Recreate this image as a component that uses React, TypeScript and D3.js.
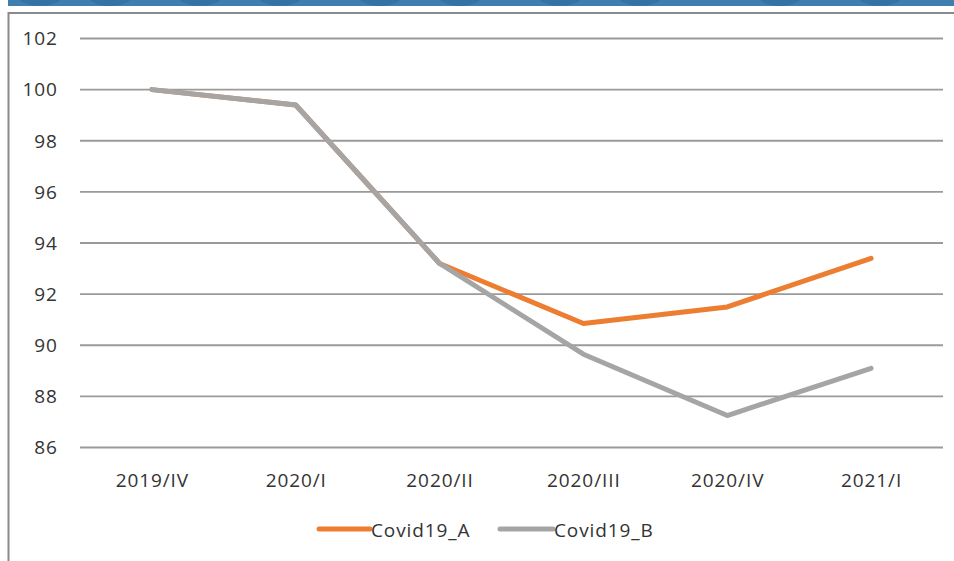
import React from "react";
import * as d3 from "d3";

const categories = ["2019/IV", "2020/I", "2020/II", "2020/III", "2020/IV", "2021/I"];
const covidA = [100, 99.4, 93.2, 90.85, 91.5, 93.4];
const covidB = [100, 99.4, 93.2, 89.65, 87.25, 89.1];
const yTicks = [86, 88, 90, 92, 94, 96, 98, 100, 102];
const seriesNames = ["Covid19_A", "Covid19_B"];

const W = 954;
const H = 561;
const FONT = "'Open Sans', 'Liberation Sans', sans-serif";
const TEXT = "#333333";
const LS = 0.9;
const FS = 19;

export default function App() {
  const x = d3.scaleBand<string>().domain(categories).range([80, 943]);
  const y = d3.scaleLinear().domain([86, 102]).range([447.5, 38.5]);
  const cx = (c: string) => (x(c) as number) + x.bandwidth() / 2;
  const line = d3
    .line<number>()
    .x((_, i) => cx(categories[i]))
    .y((d) => y(d));

  const series = [
    { name: seriesNames[0], values: covidA, color: "#ed7d31" },
    { name: seriesNames[1], values: covidB, color: "#a5a5a5" },
  ];

  const legendItems = [
    { x0: 319, x1: 370, tx: 371, ...series[0] },
    { x0: 500, x1: 553, tx: 554, ...series[1] },
  ];

  return (
    <svg
      width={W}
      height={H}
      style={{ position: "absolute", left: 0, top: 0, display: "block", background: "#fff" }}
    >
      {/* top banner */}
      <rect x={8} y={0} width={W - 8} height={6} fill="#3f7fb0" />
      {[40, 110, 200, 280, 380, 460, 560, 640, 780, 880].map((bx, i) => (
        <ellipse key={i} cx={bx} cy={-4} rx={22} ry={10} fill="#2f6b9e" opacity={0.6} />
      ))}
      <rect x={8} y={6} width={W - 8} height={6} fill="#fff" />
      {/* frame */}
      <line x1={8} x2={W} y1={13} y2={13} stroke="#8a8a8a" strokeWidth={2} />
      <line x1={8.5} x2={8.5} y1={12} y2={H} stroke="#8a8a8a" strokeWidth={2} />

      {/* grid */}
      {yTicks.map((t) => (
        <g key={t}>
          <line x1={80} x2={943} y1={y(t)} y2={y(t)} stroke="#9a9a9a" strokeWidth={1.8} />
          <text
            x={57 + LS}
            y={y(t)}
            dy="0.36em"
            textAnchor="end"
            fontFamily={FONT}
            fontSize={FS}
            letterSpacing={LS}
            fill={TEXT}
          >
            {t}
          </text>
        </g>
      ))}

      {/* x labels */}
      {categories.map((c) => (
        <text
          key={c}
          x={cx(c) + LS / 2}
          y={480}
          dy="0.36em"
          textAnchor="middle"
          fontFamily={FONT}
          fontSize={FS}
          letterSpacing={LS}
          fill={TEXT}
        >
          {c}
        </text>
      ))}

      {/* lines */}
      {series.map((s) => (
        <path
          key={s.name}
          d={line(s.values) || ""}
          fill="none"
          stroke={s.color}
          strokeWidth={5}
          strokeLinejoin="round"
          strokeLinecap="round"
        />
      ))}

      {/* legend */}
      {legendItems.map((l) => (
        <g key={l.name}>
          <line x1={l.x0} x2={l.x1} y1={529} y2={529} stroke={l.color} strokeWidth={5} strokeLinecap="round" />
          <text
            x={l.tx}
            y={530}
            dy="0.36em"
            fontFamily={FONT}
            fontSize={FS}
            letterSpacing={LS}
            fill={TEXT}
          >
            {l.name}
          </text>
        </g>
      ))}
    </svg>
  );
}
